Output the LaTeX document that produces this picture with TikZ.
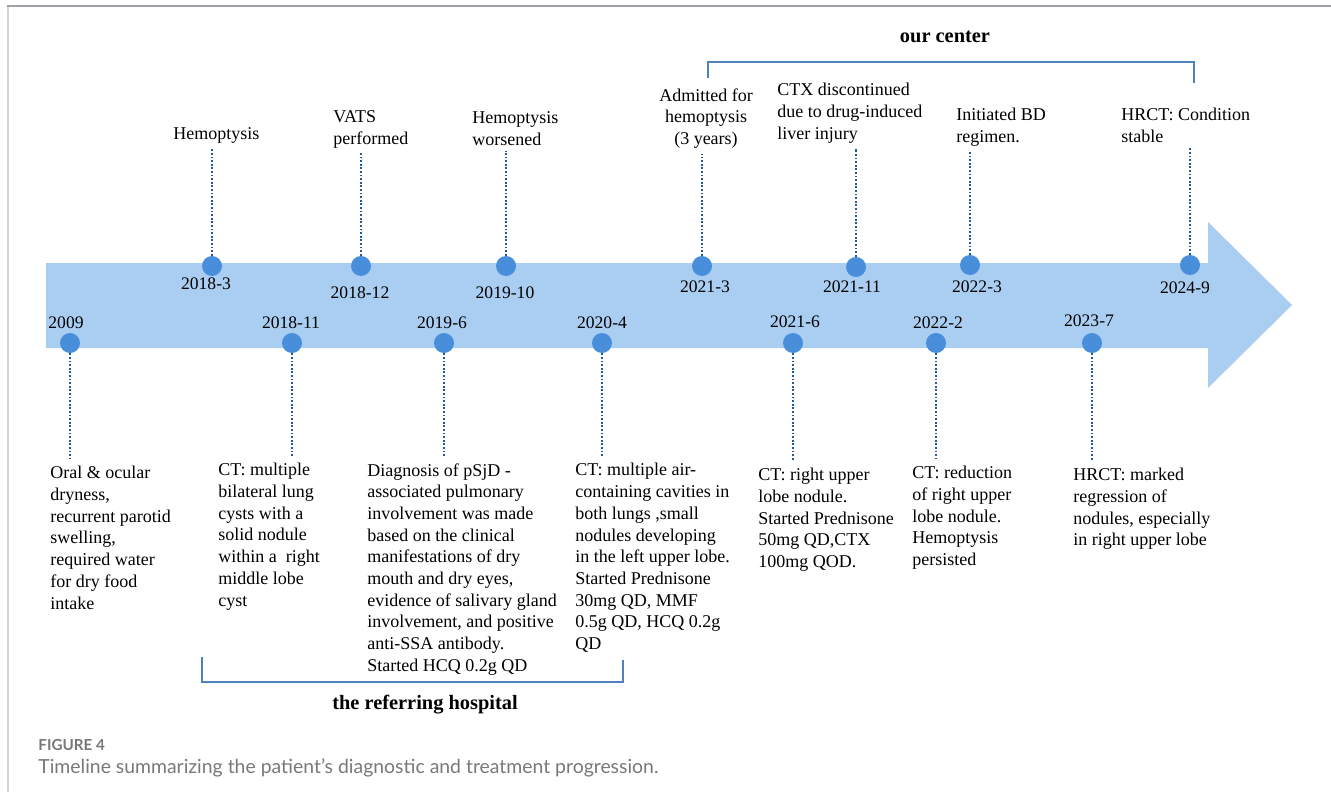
\documentclass[tikz,border=0pt]{standalone}
\usepackage{fontspec}
\setmainfont{Liberation Serif}
\newfontfamily\capfont{Lato}

\definecolor{bandBlue}{RGB}{170,206,242}
\definecolor{dotBlue}{RGB}{72,142,218}
\definecolor{stemBlue}{RGB}{32,92,152}
\definecolor{bracketBlue}{RGB}{79,129,189}
\definecolor{frameGray}{RGB}{160,160,168}
\definecolor{frameLight}{RGB}{212,212,218}
\definecolor{capGray}{RGB}{120,120,124}

\tikzstyle{dotState}=[shape=circle,fill=dotBlue,inner sep=0pt,minimum size=10pt]
\tikzstyle{dateLabel}=[inner sep=0pt,font=\fontsize{8.8}{10}\selectfont]
\tikzstyle{eventText}=[inner sep=0pt,align=left,font=\fontsize{9}{10.85}\selectfont]
\tikzstyle{stemLine}=[draw=stemBlue,line width=0.9pt,dash pattern=on 0.9pt off 0.9pt]
\tikzstyle{bracketLine}=[draw=bracketBlue,line width=1pt]
\tikzstyle{groupLabel}=[inner sep=0pt,font=\fontsize{10.2}{12}\selectfont\bfseries]

\begin{document}
\begin{tikzpicture}[x=0.5pt,y=-0.5pt]
        \useasboundingbox (0,0) rectangle (1331,792);
        % frame
        \draw[frameGray,line width=1pt] (7,6) -- (1331,6);
        \draw[frameLight,line width=1pt] (8,7) -- (8,792);

        % timeline band
        \fill[bandBlue] (46,263) -- (1208,263) -- (1208,222) -- (1292,305)
                -- (1208,388) -- (1208,348) -- (46,348) -- cycle;

        % upper events
        \node[dotState] (d2) at (212,266)  {};
        \node[dotState] (d4) at (361,266)  {};
        \node[dotState] (d6) at (506,266)  {};
        \node[dotState] (d8) at (702,266)  {};
        \node[dotState] (d10) at (856,267) {};
        \node[dotState] (d12) at (970,265) {};
        \node[dotState] (d14) at (1190,265) {};

        \node[dateLabel] (l2) at (206,284)  {2018-3};
        \node[dateLabel] (l4) at (360,293)  {2018-12};
        \node[dateLabel] (l6) at (505,293)  {2019-10};
        \node[dateLabel] (l8) at (705,287)  {2021-3};
        \node[dateLabel] (l10) at (852,287) {2021-11};
        \node[dateLabel] (l12) at (977,287) {2022-3};
        \node[dateLabel] (l14) at (1185,288) {2024-9};

        \node[eventText,anchor=north west] (t2) at (173,127) {Hemoptysis};
        \node[eventText,anchor=north west] (t4) at (333,110) {VATS\\performed};
        \node[eventText,anchor=north west] (t6) at (472,111) {Hemoptysis\\worsened};
        \node[eventText,anchor=north,align=center] (t8) at (706,88) {Admitted for\\hemoptysis\\(3 years)};
        \node[eventText,anchor=north west] (t10) at (777,83) {CTX discontinued\\due to drug-induced\\liver injury};
        \node[eventText,anchor=north west] (t12) at (956,108) {Initiated BD\\regimen.};
        \node[eventText,anchor=north west] (t14) at (1121,108) {HRCT: Condition\\stable};

        % lower events
        \node[dotState] (d1) at (70,343)   {};
        \node[dotState] (d3) at (292,343)  {};
        \node[dotState] (d5) at (444,343)  {};
        \node[dotState] (d7) at (602,343)  {};
        \node[dotState] (d9) at (793,343)  {};
        \node[dotState] (d11) at (936,343) {};
        \node[dotState] (d13) at (1092,343) {};

        \node[dateLabel] (l1) at (66,323)   {2009};
        \node[dateLabel] (l3) at (291,323)  {2018-11};
        \node[dateLabel] (l5) at (442,323)  {2019-6};
        \node[dateLabel] (l7) at (602,323)  {2020-4};
        \node[dateLabel] (l9) at (795,322)  {2021-6};
        \node[dateLabel] (l11) at (938,323) {2022-2};
        \node[dateLabel] (l13) at (1089,321) {2023-7};

        \node[eventText,anchor=north west] (t1) at (50,466) {Oral \& ocular\\dryness,\\recurrent parotid\\swelling,\\required water\\for dry food\\intake};
        \node[eventText,anchor=north west] (t3) at (218,463) {CT: multiple\\bilateral lung\\cysts with a\\solid nodule\\within a \ right\\middle lobe\\cyst};
        \node[eventText,anchor=north west] (t5) at (367,463) {Diagnosis of pSjD -\\associated pulmonary\\involvement was made\\based on the clinical\\manifestations of dry\\mouth and dry eyes,\\evidence of salivary gland\\involvement, and positive\\anti-SSA antibody.\\Started HCQ 0.2g QD};
        \node[eventText,anchor=north west] (t7) at (575,463) {CT: multiple air-\\containing cavities in\\both lungs ,small\\nodules developing\\in the left upper lobe.\\Started Prednisone\\30mg QD, MMF\\0.5g QD, HCQ 0.2g\\QD};
        \node[eventText,anchor=north west] (t9) at (758,468) {CT: right upper\\lobe nodule.\\Started Prednisone\\50mg QD,CTX\\100mg QOD.};
        \node[eventText,anchor=north west] (t11) at (912,466) {CT: reduction\\of right upper\\lobe nodule.\\Hemoptysis\\persisted};
        \node[eventText,anchor=north west] (t13) at (1073,468) {HRCT: marked\\regression of\\nodules, especially\\in right upper lobe};

        % dotted stems
        \foreach \i in {2,4,6,8,10,12,14}
                \draw[stemLine,shorten >=2.5pt] (d\i) -- (d\i |- t\i.south);
        \foreach \i in {1,3,5,7,9,11,13}
                \draw[stemLine,shorten >=3.5pt] (d\i) -- (d\i |- t\i.north);

        % group brackets
        \coordinate (oc1) at (708,78);
        \coordinate (ocm) at (951,62);
        \coordinate (oc2) at (1194,83);
        \draw[bracketLine] (oc1) |- (ocm) -| (oc2);
        \node[groupLabel] (ocl) at (945,37) {our center};

        \coordinate (rh1) at (202,657);
        \coordinate (rhm) at (412,682);
        \coordinate (rh2) at (623,660);
        \draw[bracketLine] (rh1) |- (rhm) -| (rh2);
        \node[groupLabel] (rhl) at (425,705) {the referring hospital};

        % caption
        \node[inner sep=0pt,anchor=west,text=capGray,font=\capfont\fontsize{7.6}{9}\selectfont\bfseries] (cap1) at (38,745) {FIGURE 4};
        \node[inner sep=0pt,anchor=west,text=capGray,font=\capfont\fontsize{9.7}{11}\selectfont] (cap2) at (38,768) {Timeline summarizing the patient’s diagnostic and treatment progression.};
\end{tikzpicture}
\end{document}
